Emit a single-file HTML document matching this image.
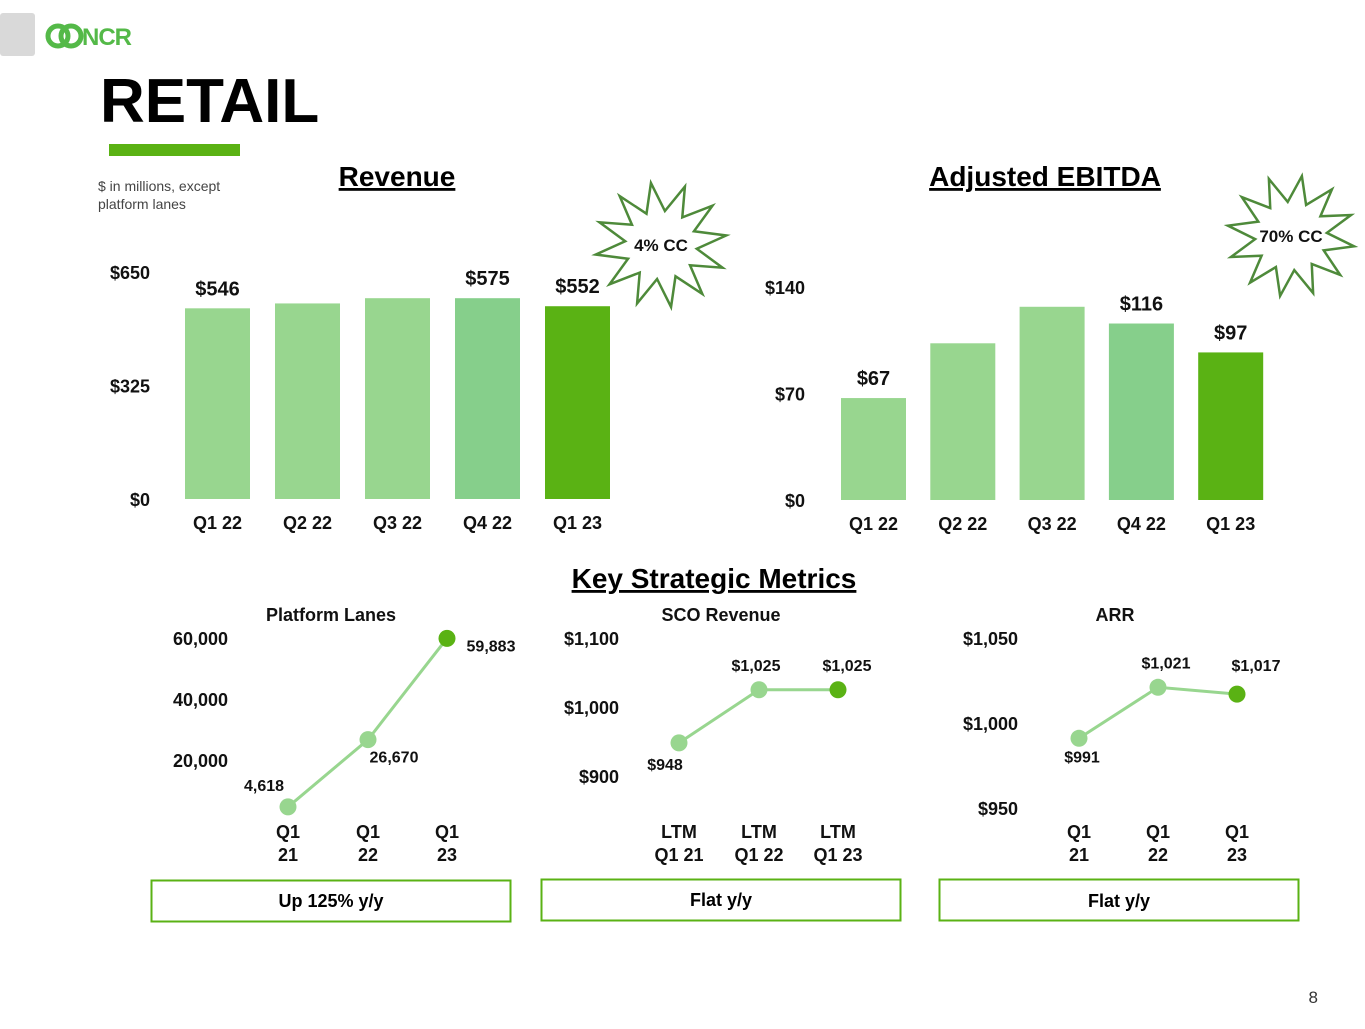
<!DOCTYPE html>
<html><head><meta charset="utf-8">
<style>
body{margin:0;width:1365px;height:1024px;background:#fff;overflow:hidden;font-family:"Liberation Sans",sans-serif;}
svg text{font-family:"Liberation Sans",sans-serif;}
</style></head>
<body>
<svg id="s" width="1365" height="1024" viewBox="0 0 1365 1024">
<rect x="0" y="13" width="35" height="43" rx="3" fill="#d9d9d9"/>
<g>
<circle cx="58" cy="36" r="10" fill="none" stroke="#54b948" stroke-width="5"/>
<circle cx="71" cy="36" r="10" fill="none" stroke="#54b948" stroke-width="5"/>
<text x="82" y="45" font-size="24" font-weight="bold" fill="#54b948" letter-spacing="-1">NCR</text>
</g>
<text x="100" y="122" font-size="62" font-weight="bold" fill="#000">RETAIL</text>
<rect x="109" y="144" width="131" height="12" fill="#5ab214"/>
<text x="98" y="191" font-size="14" fill="#444">$ in millions, except</text>
<text x="98" y="209" font-size="14" fill="#444">platform lanes</text>

<text x="397" y="186" font-size="28" font-weight="bold" text-anchor="middle" text-decoration="underline">Revenue</text>
<text x="1045" y="186" font-size="28" font-weight="bold" text-anchor="middle" text-decoration="underline">Adjusted EBITDA</text>
<text x="714" y="588" font-size="28" font-weight="bold" text-anchor="middle" text-decoration="underline">Key Strategic Metrics</text>

<g id="burst1"></g>
<g id="burst2"></g>
<g id="charts"></g>

<g>
<rect x="151.5" y="880.5" width="359" height="41" fill="#fff" stroke="#5ab214" stroke-width="2"/>
<text x="331" y="907" font-size="18" font-weight="bold" text-anchor="middle">Up 125% y/y</text>
<rect x="541.5" y="879.5" width="359" height="41" fill="#fff" stroke="#5ab214" stroke-width="2"/>
<text x="721" y="906" font-size="18" font-weight="bold" text-anchor="middle">Flat y/y</text>
<rect x="939.5" y="879.5" width="359" height="41" fill="#fff" stroke="#5ab214" stroke-width="2"/>
<text x="1119" y="907" font-size="18" font-weight="bold" text-anchor="middle">Flat y/y</text>
</g>
<text x="1318" y="1003" font-size="17" fill="#333" text-anchor="end">8</text>
</svg>
<script>
const NS='http://www.w3.org/2000/svg';
const revCats=['Q1 22','Q2 22','Q3 22','Q4 22','Q1 23'];
const revVals=[546,560,575,575,552];
const revLabels=['$546','','','$575','$552'];
const revTicks=[0,325,650];
const ebCats=['Q1 22','Q2 22','Q3 22','Q4 22','Q1 23'];
const ebVals=[67,103,127,116,97];
const ebLabels=['$67','','','$116','$97'];
const ebTicks=[0,70,140];
const plCats=['Q1|21','Q1|22','Q1|23'];
const plVals=[4618,26670,59883];
const plLabels=['4,618','26,670','59,883'];
const plTicks=[20000,40000,60000];
const scoCats=['LTM|Q1 21','LTM|Q1 22','LTM|Q1 23'];
const scoVals=[948,1025,1025];
const scoLabels=['$948','$1,025','$1,025'];
const scoTicks=[900,1000,1100];
const arrCats=['Q1|21','Q1|22','Q1|23'];
const arrVals=[991,1021,1017];
const arrLabels=['$991','$1,021','$1,017'];
const arrTicks=[950,1000,1050];

const root=document.getElementById('charts');
function el(tag,attrs,parent){const e=document.createElementNS(NS,tag);for(const k in attrs)e.setAttribute(k,attrs[k]);(parent||root).appendChild(e);return e;}
function txt(x,y,s,size,anchor,parent,fill){const t=el('text',{x:x,y:y,'font-size':size,'font-weight':'bold','text-anchor':anchor||'middle',fill:fill||'#111'},parent);t.textContent=s;return t;}
function fmtTick(v,dollar){const s=v.toLocaleString('en-US');return dollar?'$'+s:s;}

function barChart(name,cats,vals,labels,ticks,x0,step,bw,y0,yTop,axisX){
  const g=el('g',{});
  
  
  const max=ticks[ticks.length-1];
  const yS=v=>y0-(v/max)*(y0-yTop);
  ticks.forEach(t=>{const tt=txt(axisX,yS(t)+7,fmtTick(t,true),18,'end',g);
    
    });
  cats.forEach((c,i)=>{
    const x=x0+i*step;
    const fill=i===cats.length-1?'#5ab214':(i===cats.length-2?'#86cf8b':'#98d68f');
    const r=el('rect',{x:x,y:yS(vals[i]),width:bw,height:y0-yS(vals[i]),fill:fill},g);
    
    
    const xl=txt(x+bw/2,y0+30,c,18,'middle',g);
    
    
    if(labels[i]){const vl=txt(x+bw/2,yS(vals[i])-13,labels[i],20,'middle',g);
      
      }
  });
}
barChart('revenue-chart',revCats,revVals,revLabels,revTicks,185,90,65,499,272,150);
barChart('ebitda-chart',ebCats,ebVals,ebLabels,ebTicks,841,89.3,65,500,287,805);

function lineChart(name,title,titleX,cats,vals,labels,ticks,xs,yLo,yHi,axisX,lblOff){
  const g=el('g',{});
  
  
  const lo=ticks[0],hi=ticks[ticks.length-1];
  const yS=v=>yLo-(v-lo)/(hi-lo)*(yLo-yHi);
  const tl=txt(titleX,621,title,18,'middle',g);
  
  
  ticks.forEach(t=>{const tt=txt(axisX,yS(t)+7,fmtTick(t,name!=='platform-lanes-chart'),18,'end',g);
    
    });
  const pts=vals.map((v,i)=>xs[i]+','+yS(v)).join(' ');
  const pl=el('polyline',{points:pts,fill:'none',stroke:'#98d68f','stroke-width':3},g);
  
  
  vals.forEach((v,i)=>{
    const c=el('circle',{cx:xs[i],cy:yS(v),r:8.5,fill:i===vals.length-1?'#5ab214':'#98d68f'},g);
    
    
    const o=lblOff[i];
    const vl=txt(xs[i]+o[0],yS(v)+o[1],labels[i],16,'middle',g);
    
    
    const parts=cats[i].split('|');
    parts.forEach((p,j)=>{const xl=txt(xs[i],838+j*23,p,18,'middle',g);
      
      });
  });
}
lineChart('platform-lanes-chart','Platform Lanes',331,plCats,plVals,plLabels,plTicks,[288,368,447],760,638,228,[[-24,-16],[26,23],[44,13]]);
lineChart('sco-revenue-chart','SCO Revenue',721,scoCats,scoVals,scoLabels,scoTicks,[679,759,838],776,638,619,[[-14,27],[-3,-19],[9,-19]]);
lineChart('arr-chart','ARR',1115,arrCats,arrVals,arrLabels,arrTicks,[1079,1158,1237],808,638,1018,[[3,24],[8,-19],[19,-23]]);

function burst(id,cx,cy,rO,rI,n,label,rot){
  const g=document.getElementById(id);
  let pts=[];
  for(let i=0;i<n*2;i++){const a=rot+i*Math.PI/n;const r=i%2?rI:rO;pts.push((cx+r*Math.cos(a)*1.0)+','+(cy+r*Math.sin(a)*0.95));}
  el('polygon',{points:pts.join(' '),fill:'#fff',stroke:'#4e8a3a','stroke-width':2.5},g);
  txt(cx,cy+6,label,17,'middle',g);
}
burst('burst1',661,245,66,36,12,'4% CC',-1.2);
burst('burst2',1291,236,64,36,12,'70% CC',-1.4);
</script>
</body></html>
